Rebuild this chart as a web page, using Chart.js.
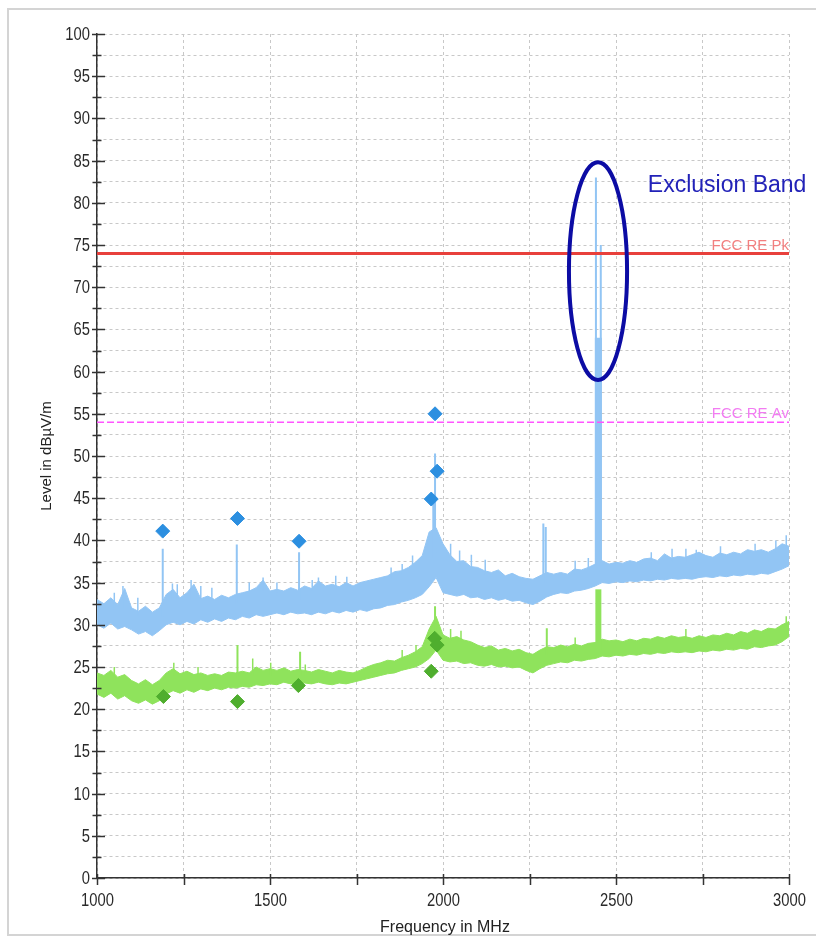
<!DOCTYPE html>
<html>
<head>
<meta charset="utf-8">
<script src="https://cdn.jsdelivr.net/npm/chart.js@4.4.0/dist/chart.umd.min.js"></script>
<style>
  html, body { margin: 0; padding: 0; background: #fff; }
  canvas { display: block; }
</style>
</head>
<body>
<canvas id="chart" width="816" height="936"></canvas>
<script>
// frequency grid of the traces (MHz)
const freqs = [1000,1020,1040,1060,1080,1100,1120,1140,1160,1180,1200,1220,1240,1260,1280,1300,1320,1340,1360,1380,
  1400,1420,1440,1460,1480,1500,1520,1540,1560,1580,1600,1620,1640,1660,1680,1700,1720,1740,1760,1780,
  1800,1820,1840,1860,1880,1900,1920,1940,1960,1980,2000,2020,2040,2060,2080,2100,2120,2140,2160,2180,
  2200,2220,2240,2260,2280,2300,2320,2340,2360,2380,2400,2420,2440,2460,2480,2500,2520,2540,2560,2580,
  2600,2620,2640,2660,2680,2700,2720,2740,2760,2780,2800,2820,2840,2860,2880,2900,2920,2940,2960,2980,3000]

// peak trace, upper / lower edge of the noise band (dBuV/m)
const peakHi = [33.0,32.5,33.2,32.4,34.3,32.0,31.6,32.2,31.5,32.0,33.6,34.2,33.2,33.8,34.8,33.1,33.4,33.0,33.5,33.2,
  33.6,33.8,34.0,34.4,35.3,34.0,34.2,34.0,34.4,34.1,34.6,34.3,35.2,34.6,34.8,34.5,35.0,34.6,35.0,35.2,
  35.4,35.6,35.8,36.3,36.4,36.8,37.4,38.2,41.0,41.5,39.6,38.3,37.5,37.6,36.9,36.8,36.4,36.2,36.5,35.8,
  36.1,35.7,35.5,35.4,35.8,36.2,36.0,36.2,36.0,36.6,36.5,36.8,37.2,37.6,37.2,37.4,37.3,37.6,37.4,37.8,
  37.9,37.6,38.4,37.9,38.1,38.0,38.3,38.6,38.2,38.0,38.5,38.3,38.6,38.4,38.9,38.7,38.9,38.6,39.0,39.6,39.3]
const peakLo = [30.0,29.6,30.2,29.5,29.8,29.4,28.9,29.2,28.7,29.3,30.0,30.3,30.0,30.4,30.1,30.6,30.3,30.7,30.4,30.8,
  30.6,31.0,30.8,31.2,31.0,31.2,31.4,31.2,31.5,31.3,31.4,31.2,31.5,31.3,31.6,31.4,31.7,31.5,31.8,31.6,
  31.9,32.0,32.3,32.4,32.7,32.9,33.2,33.6,34.5,35.6,33.8,33.6,33.4,33.6,33.2,33.3,33.0,33.2,32.9,33.1,
  32.8,32.9,32.6,32.4,32.8,33.3,33.6,33.8,33.7,34.0,34.1,34.3,34.6,35.0,34.9,35.1,35.0,35.2,35.1,35.3,
  35.2,35.4,35.3,35.5,35.4,35.5,35.4,35.6,35.7,35.6,35.8,35.7,35.9,35.8,36.0,35.9,36.1,36.0,36.3,36.6,37.0]

// average trace, upper / lower edge
const avgHi = [24.3,24.0,24.6,23.8,24.1,23.4,23.0,23.5,22.9,23.4,24.3,24.8,24.2,24.5,24.1,24.3,24.0,24.2,24.0,24.4,
  24.3,24.5,24.3,25.0,24.6,24.8,24.6,24.9,24.5,24.7,24.6,24.4,24.7,24.5,24.3,24.6,24.4,24.3,24.6,25.0,
  25.3,25.5,25.8,25.7,26.1,26.4,26.8,27.4,29.5,31.0,28.8,28.4,28.6,28.2,28.0,27.6,27.3,27.5,27.0,27.2,
  26.9,27.1,26.7,26.5,27.0,27.4,27.3,27.6,27.4,27.7,27.5,27.8,27.9,28.3,28.1,28.2,28.0,28.3,28.1,28.4,
  28.3,28.6,28.4,28.7,28.5,28.6,28.4,28.7,28.5,28.8,28.7,29.0,28.8,29.2,29.0,29.4,29.2,29.6,29.5,30.0,30.4]
const avgLo = [21.8,21.4,21.9,21.2,21.6,21.0,20.7,21.1,20.6,21.0,21.8,22.2,21.9,22.3,22.0,22.4,22.2,22.5,22.3,22.6,
  22.5,22.7,22.6,22.9,22.8,23.0,22.9,23.2,23.0,23.2,23.1,23.0,23.2,23.0,22.9,23.1,23.0,23.2,23.4,23.6,
  23.8,24.0,24.2,24.3,24.6,24.8,25.0,25.4,26.0,27.0,25.8,25.6,25.7,25.4,25.5,25.2,25.1,25.3,25.0,25.1,
  24.9,25.0,24.6,24.3,24.8,25.2,25.4,25.6,25.5,25.8,25.7,25.9,26.0,26.3,26.2,26.4,26.3,26.5,26.4,26.6,
  26.5,26.7,26.6,26.8,26.7,26.8,26.7,26.9,26.8,27.0,26.9,27.1,27.0,27.2,27.1,27.4,27.3,27.5,27.6,28.0,28.6]

// strong spurs sticking out of the bands
const peakSpurFreq = [1190,1404,1584,1972,1977,2290,2297,2442,2456]
const peakSpurTop  = [39.0,39.5,38.6,45.5,50.3,42.0,41.6,83.0,75.0]
const peakSpurBase = [31.0,32.5,33.0,38.0,38.0,35.0,35.0,37.0,37.0]
const avgSpurFreq = [1406,1587,1977,2300]
const avgSpurTop  = [27.6,26.8,32.2,29.6]
const avgSpurBase = [23.5,24.0,28.0,26.5]

// small noise spikes on the band edges
const peakTickFreq = [1050,1075,1118,1218,1232,1272,1300,1332,1440,1480,1520,1622,1640,1690,1722,1850,1882,1912,2022,2048,2082,2122,2382,2420,2602,2662,2702,2732,2802,2902,2962,2992]
const peakTickTop  = [33.8,34.6,33.2,34.9,34.8,35.3,34.6,34.4,35.0,35.6,35.0,35.3,35.6,35.8,35.7,36.8,37.2,38.2,39.6,38.8,38.3,37.7,37.6,37.9,38.6,39.0,39.0,38.9,39.3,39.6,40.0,40.6]
const peakTickBase = [32.0,32.0,31.0,33.0,33.0,33.0,33.0,33.0,33.5,34.0,33.5,34.0,34.5,34.5,34.5,35.5,36.0,37.0,38.0,37.0,36.5,36.0,36.0,36.5,37.5,37.5,37.5,37.8,38.0,38.5,38.5,39.0]
const avgTickFreq = [1050,1222,1292,1450,1502,1602,1882,1922,2022,2052,2382,2702,2992]
const avgTickTop  = [25.0,25.5,25.0,26.0,25.5,25.3,27.0,27.6,29.5,29.3,28.5,29.5,31.0]
const avgTickBase = [23.5,24.0,23.8,24.0,24.0,24.0,25.8,26.5,28.0,28.0,27.3,28.3,29.8]

// 2.4 GHz carrier body
const peakBurstFreq = [2449]
const peakBurstTop = [64.0]
const peakBurstBase = [36.0]
const avgBurstFreq = [2449]
const avgBurstTop = [34.2]
const avgBurstBase = [27.0]

// final measurement markers
const peakMarkFreq = [1190,1406,1584,1966,1977,1983]
const peakMarkLevel = [41.1,42.6,39.9,44.9,55.0,48.2]
const avgMarkFreq = [1192,1406,1582,1966,1976,1983]
const avgMarkLevel = [21.5,20.9,22.8,24.5,28.4,27.6]

// limits
const limitPk = 74
const limitAv = 54

// exclusion band annotation (data space)
const exclCenter = [2448, 71.9]
const exclRadius = [84, 12.9]
const exclLabelAt = [2592, 81.3]

const blueBand = '#92c5f4'
const greenBand = '#8fe35c'

const pts = (xs, ys) => xs.map((f, i) => ({ x: f, y: ys[i] }))
const segs = (xs, lo, hi) => xs.flatMap((f, i) => [{ x: f, y: lo[i] }, { x: f, y: hi[i] }, { x: f, y: null }])
const hline = (v) => [{ x: 1000, y: v }, { x: 3000, y: v }]

const bandLine = { pointRadius: 0, borderWidth: 1, tension: 0, spanGaps: false }

function narrowText(ctx, text, x, y, align) {
  ctx.save()
  ctx.translate(x, y)
  ctx.scale(0.82, 1)
  ctx.textAlign = align
  ctx.fillText(text, 0, 0)
  ctx.restore()
}

const overlay = {
  id: 'overlay',
  beforeDraw(chart) {
    const ctx = chart.ctx
    ctx.save()
    ctx.strokeStyle = '#d4d4d4'
    ctx.lineWidth = 2
    ctx.strokeRect(8, 9, 840, 926)
    ctx.restore()
  },
  afterDraw(chart) {
    const { ctx, chartArea: a, scales: { x, y } } = chart
    ctx.save()
    // tick marks crossing the axes, with labels
    ctx.strokeStyle = '#333'
    ctx.fillStyle = '#2a2a2a'
    ctx.lineWidth = 1.5
    ctx.font = '18px "Liberation Sans", Arial, sans-serif'
    ctx.textBaseline = 'middle'
    y.ticks.forEach(t => {
      const py = Math.round(y.getPixelForValue(t.value)) + 0.5
      const major = Math.abs(t.value % 5) < 1e-6
      ctx.beginPath()
      ctx.moveTo(a.left - (major ? 5 : 4.5), py)
      ctx.lineTo(a.left + (major ? 8 : 4.5), py)
      ctx.stroke()
      if (major) narrowText(ctx, String(t.value), a.left - 7, py + 1, 'right')
    })
    x.ticks.forEach(t => {
      const px = Math.round(x.getPixelForValue(t.value)) + 0.5
      ctx.beginPath()
      ctx.moveTo(px, a.bottom - 4)
      ctx.lineTo(px, a.bottom + 7)
      ctx.stroke()
      if (t.value % 500 === 0) narrowText(ctx, String(t.value), px, a.bottom + 23, 'center')
    })

    // axis titles
    ctx.fillStyle = '#222'
    ctx.font = '16px "Liberation Sans", Arial, sans-serif'
    ctx.textAlign = 'center'
    ctx.textBaseline = 'alphabetic'
    ctx.fillText('Frequency in MHz', (a.left + a.right) / 2 + 2, 932)
    ctx.save()
    ctx.translate(51, 456)
    ctx.rotate(-Math.PI / 2)
    ctx.font = '15px "Liberation Sans", Arial, sans-serif'
    ctx.fillText('Level in dB\u00b5V/m', 0, 0)
    ctx.restore()

    // limit labels
    ctx.font = '15px "Liberation Sans", Arial, sans-serif'
    ctx.textAlign = 'right'
    ctx.fillStyle = '#f27f7f'
    ctx.fillText('FCC RE Pk', a.right, y.getPixelForValue(limitPk) - 3)
    ctx.fillStyle = '#f27cf2'
    ctx.fillText('FCC RE Av', a.right, y.getPixelForValue(limitAv) - 4)

    // exclusion band
    const cx = x.getPixelForValue(exclCenter[0])
    const cy = y.getPixelForValue(exclCenter[1])
    const rx = x.getPixelForValue(exclCenter[0] + exclRadius[0]) - cx
    const ry = cy - y.getPixelForValue(exclCenter[1] + exclRadius[1])
    ctx.strokeStyle = '#0c0ca4'
    ctx.lineWidth = 4
    ctx.beginPath()
    ctx.ellipse(cx, cy, rx, ry, 0, 0, Math.PI * 2)
    ctx.stroke()
    ctx.fillStyle = '#2222b8'
    ctx.font = '23px "Liberation Sans", Arial, sans-serif'
    ctx.textAlign = 'left'
    ctx.fillText('Exclusion Band', x.getPixelForValue(exclLabelAt[0]), y.getPixelForValue(exclLabelAt[1]))
    ctx.restore()
  }
}

new Chart(document.getElementById('chart'), {
  type: 'line',
  data: {
    datasets: [
      // 0,1 peak band
      { data: pts(freqs, peakLo), borderColor: blueBand, fill: false, order: 6, ...bandLine },
      { data: pts(freqs, peakHi), borderColor: blueBand, backgroundColor: blueBand, fill: 0, order: 6, ...bandLine },
      // 2,3 average band
      { data: pts(freqs, avgLo), borderColor: greenBand, fill: false, order: 4, ...bandLine },
      { data: pts(freqs, avgHi), borderColor: greenBand, backgroundColor: greenBand, fill: 2, order: 4, ...bandLine },
      // spurs
      { data: segs(peakSpurFreq, peakSpurBase, peakSpurTop), borderColor: blueBand, order: 5, ...bandLine, borderWidth: 2 },
      { data: segs(peakTickFreq, peakTickBase, peakTickTop), borderColor: blueBand, order: 5, ...bandLine, borderWidth: 1.5 },
      { data: segs(peakBurstFreq, peakBurstBase, peakBurstTop), borderColor: blueBand, order: 5, ...bandLine, borderWidth: 7 },
      { data: segs(avgSpurFreq, avgSpurBase, avgSpurTop), borderColor: greenBand, order: 3, ...bandLine, borderWidth: 2 },
      { data: segs(avgTickFreq, avgTickBase, avgTickTop), borderColor: greenBand, order: 3, ...bandLine, borderWidth: 1.5 },
      { data: segs(avgBurstFreq, avgBurstBase, avgBurstTop), borderColor: greenBand, order: 3, ...bandLine, borderWidth: 6 },
      // limits
      { data: hline(limitPk), borderColor: '#e8403c', borderWidth: 3, pointRadius: 0, order: 2 },
      { data: hline(limitAv), borderColor: '#ff55ff', borderWidth: 1.5, borderDash: [7, 3], pointRadius: 0, order: 2 },
      // markers
      { data: pts(peakMarkFreq, peakMarkLevel), showLine: false, pointStyle: 'rectRot', pointRadius: 7,
        backgroundColor: '#2c8fe0', borderColor: '#2c8fe0', order: 1 },
      { data: pts(avgMarkFreq, avgMarkLevel), showLine: false, pointStyle: 'rectRot', pointRadius: 7,
        backgroundColor: '#4fae2e', borderColor: '#4fae2e', order: 1 }
    ]
  },
  options: {
    responsive: false,
    animation: false,
    events: [],
    layout: { padding: { left: 0, top: 34, right: 27, bottom: 0 } },
    plugins: { legend: { display: false }, tooltip: { enabled: false } },
    scales: {
      x: {
        type: 'linear', min: 1000, max: 3000,
        afterFit: s => { s.height = 58 },
        grid: { color: '#c8c8c8', lineWidth: 1, drawTicks: false },
        border: { color: '#333', width: 1.5, dash: [3, 3] },
        ticks: { stepSize: 250, autoSkip: false, display: false }
      },
      y: {
        min: 0, max: 100,
        afterFit: s => { s.width = 97 },
        grid: { color: '#c8c8c8', lineWidth: 1, drawTicks: false },
        border: { color: '#333', width: 1.5, dash: [3, 3] },
        ticks: { stepSize: 2.5, autoSkip: false, display: false }
      }
    }
  },
  plugins: [overlay]
})
</script>
</body>
</html>
